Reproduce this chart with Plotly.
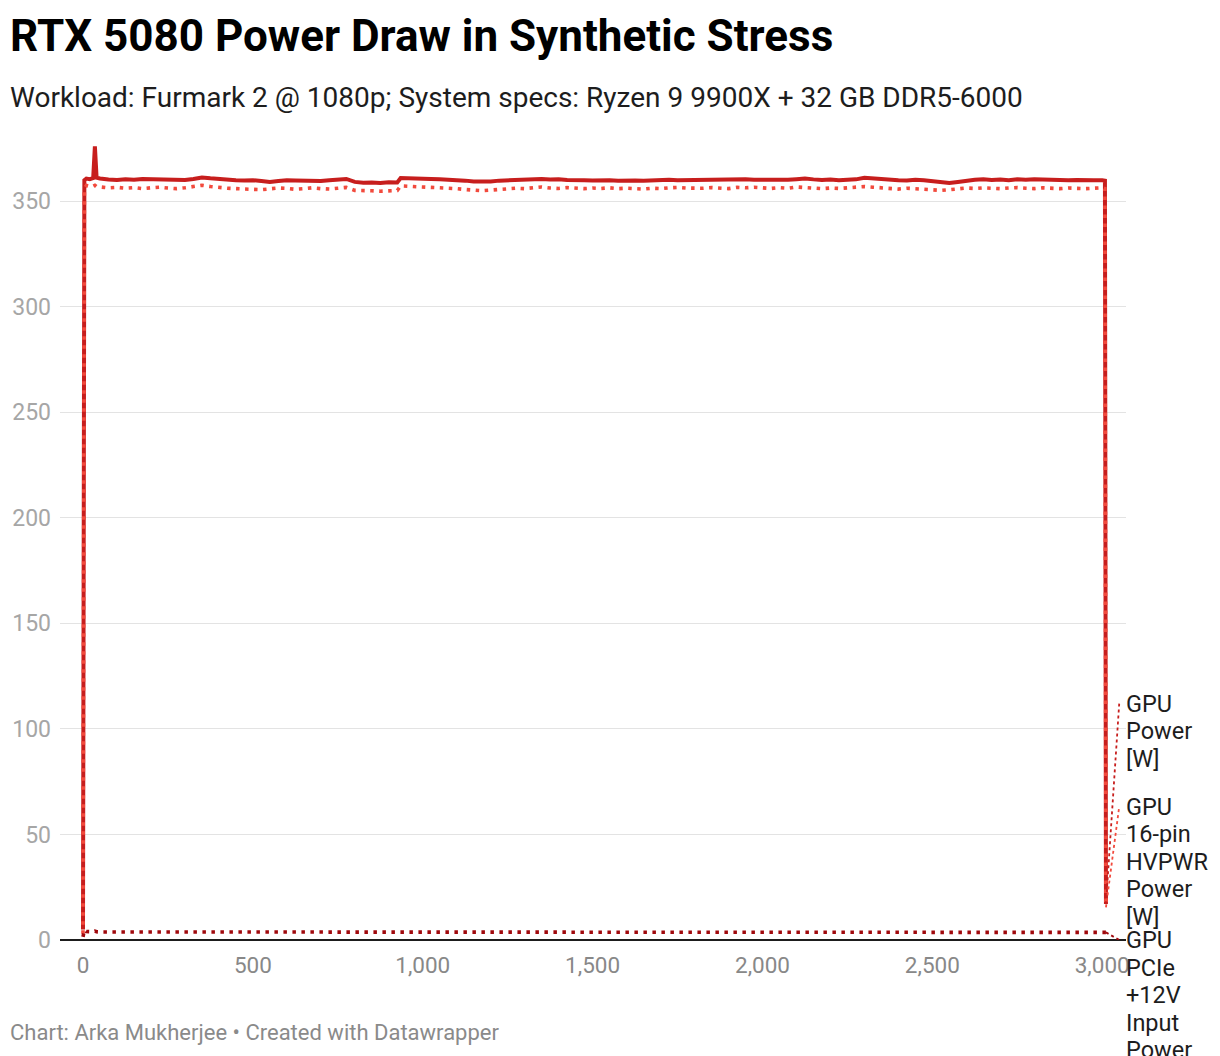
import plotly.graph_objects as go

# ---------------- data ----------------
time_s = [
    0, 4, 10, 20, 30, 35, 40,
    50, 75, 100, 125, 150, 175, 200, 225, 250, 275,
    300, 325, 350, 375, 400, 425, 450, 475, 500, 525,
    550, 575, 600, 625, 650, 675, 700, 725, 750, 775,
    800, 825, 850, 875, 900,
    925, 935,
    950, 975, 1000, 1025, 1050, 1075, 1100, 1125, 1150, 1175,
    1200, 1225, 1250, 1275, 1300, 1325, 1350, 1375, 1400, 1425,
    1450, 1475, 1500, 1525, 1550, 1575, 1600, 1625, 1650, 1675,
    1700, 1725, 1750, 1775, 1800, 1825, 1850, 1875, 1900, 1925,
    1950, 1975, 2000, 2025, 2050, 2075, 2100, 2125, 2150, 2175,
    2200, 2225, 2250, 2275, 2300, 2325, 2350, 2375, 2400, 2425,
    2450, 2475, 2500, 2525, 2550, 2575, 2600, 2625, 2650, 2675,
    2700, 2725, 2750, 2775, 2800, 2825, 2850, 2875, 2900, 2925,
    2950, 2975, 3000,
    3008, 3011,
]

gpu_power = [
    5, 360, 360.8, 360.5, 361.0, 376, 361.2,
    360.8, 360.3, 360.1, 360.4, 360.2, 360.6, 360.5, 360.2, 360.0, 359.8,
    360.1, 360.6, 361.3, 360.9, 360.5, 360.2, 360.0, 359.9, 360.0, 359.6,
    359.2, 359.6, 360.0, 359.9, 359.8, 360.1, 359.6, 360.0, 360.2, 360.6,
    359.2, 358.8, 358.9, 358.7, 359.0,
    358.9, 361.0,
    361.0, 360.9, 360.8, 360.6, 360.5, 360.4, 360.2, 359.8, 359.4, 359.2,
    359.4, 359.8, 360.0, 360.3, 360.2, 360.4, 360.6, 360.3, 360.5, 360.1,
    360.2, 360.0, 359.9, 360.1, 360.0, 359.8, 360.0, 359.9, 359.7, 359.9,
    359.8, 360.2, 360.0, 360.1, 360.3, 360.0, 360.2, 360.4, 360.3, 360.7,
    360.5, 360.2, 360.1, 360.0, 360.3, 360.2, 360.5, 360.8, 360.4, 360.1,
    360.3, 360.0, 360.2, 360.4, 361.2, 360.8, 360.5, 360.3, 360.0, 359.9,
    360.2, 360.0, 359.6, 359.0, 358.7, 359.2, 359.8, 360.2, 360.4, 360.1,
    360.3, 360.0, 360.4, 360.2, 360.5, 360.3, 360.1, 360.2, 360.0, 360.1,
    359.9, 360.0, 360.0,
    359.8, 17,
]

hvpwr_power = [
    3, 356, 357.5, 357.0, 357.2, 357.6, 357.0,
    356.8, 356.4, 356.6, 356.2, 356.5, 356.0, 356.4, 356.7, 356.3, 356.0,
    356.4, 357.0, 357.6, 357.0, 356.5, 356.2, 356.0, 355.8, 355.6, 355.5,
    355.9, 356.3, 356.1, 355.7, 356.0, 356.4, 356.0, 355.8, 356.2, 356.6,
    355.2, 354.9, 355.0, 354.8, 355.0,
    355.1, 357.3,
    357.2, 357.0, 356.8, 356.9, 356.6, 356.4, 356.0, 355.6, 355.2, 355.0,
    355.3, 355.6, 355.9, 356.2, 356.0, 356.4, 356.8, 356.3, 356.1, 356.5,
    356.2, 356.0, 356.3, 356.1, 356.4, 356.0, 356.2, 356.1, 355.8, 356.2,
    356.0, 356.4, 356.6, 356.3, 356.1, 356.2, 356.5, 356.3, 356.0, 356.6,
    356.4, 356.7, 356.3, 356.1, 356.5, 356.2, 356.8, 356.6, 356.2, 356.0,
    356.3, 356.1, 356.4, 356.6, 357.0, 356.7, 356.3, 356.0, 355.8, 356.2,
    356.0, 355.6, 355.3, 355.2, 355.5, 355.9, 356.3, 356.1, 356.4, 356.2,
    356.0, 356.3, 356.5, 356.2, 356.0, 356.4, 356.2, 356.0, 356.3, 356.1,
    356.0, 356.2, 356.4,
    356.0, 15.5,
]

pcie_power = [
    1.5, 4.8, 4.0, 3.9, 3.9, 4.2, 3.9,
    3.8, 3.8, 3.7, 3.8, 3.8, 3.7, 3.8, 3.8, 3.8, 3.7,
    3.8, 3.8, 3.9, 3.8, 3.8, 3.7, 3.8, 3.8, 3.8, 3.7,
    3.8, 3.8, 3.7, 3.8, 3.8, 3.8, 3.7, 3.8, 3.8, 3.8,
    3.7, 3.8, 3.8, 3.8, 3.7,
    3.8, 3.8,
    3.8, 3.8, 3.7, 3.8, 3.8, 3.8, 3.7, 3.8, 3.8, 3.8,
    3.7, 3.8, 3.8, 3.8, 3.8, 3.7, 3.8, 3.8, 3.8, 3.7,
    3.8, 3.8, 3.8, 3.7, 3.8, 3.8, 3.8, 3.8, 3.7, 3.8,
    3.8, 3.8, 3.7, 3.8, 3.8, 3.8, 3.8, 3.7, 3.8, 3.8,
    3.8, 3.7, 3.8, 3.8, 3.8, 3.8, 3.7, 3.8, 3.8, 3.8,
    3.7, 3.8, 3.8, 3.8, 3.8, 3.7, 3.8, 3.8, 3.8, 3.8,
    3.7, 3.8, 3.8, 3.8, 3.7, 3.8, 3.8, 3.8, 3.8, 3.7,
    3.8, 3.8, 3.8, 3.8, 3.7, 3.8, 3.8, 3.8, 3.8, 3.7,
    3.8, 3.8, 3.8,
    3.8, 3.6,
]

series_names = [
    "GPU Power [W]",
    "GPU 16-pin HVPWR Power [W]",
    "GPU PCIe +12V Input Power [W]",
]
label_lines = [
    ["GPU", "Power", "[W]"],
    ["GPU", "16-pin", "HVPWR", "Power", "[W]"],
    ["GPU", "PCIe", "+12V", "Input", "Power", "[W]"],
]

x_ticks = [0, 500, 1000, 1500, 2000, 2500, 3000]
y_ticks = [0, 50, 100, 150, 200, 250, 300, 350]

title_text = "RTX 5080 Power Draw in Synthetic Stress"
subtitle_text = "Workload: Furmark 2 @ 1080p; System specs: Ryzen 9 9900X + 32 GB DDR5-6000"
footer_text = "Chart: Arka Mukherjee \u2022 Created with Datawrapper"

# ---------------- styling / layout ----------------
W, H = 1220, 1056
OFF = 8  # page body margin in the browser
M_L, M_R, M_T, M_B = 60 - OFF, 94 + OFF, 138 - OFF, 116 + OFF
X_RANGE = [-67.7, 3070]
Y_RANGE = [0, 380]

colors = ["#c71e1d", "#f24a3d", "#a0080c"]
dashes = ["solid", "3.5px,5.5px", "3.5px,5.5px"]
widths = [4.0, 3.6, 3.6]

# label anchors (layout positions, value units on the y axis)
label_anchor_y = [112.0, 63.2, 0.0]
connector_x_end = 3050
LABEL_LINE_H = 27.5
LABEL_FS = 23.5

plot_h = H - M_T - M_B
plot_w = W - M_L - M_R


def paper_x(px):
    return (px - OFF - M_L) / plot_w


def paper_y(py):
    return (H - M_B - (py - OFF)) / plot_h


FONT = "Roboto, 'Noto Sans', sans-serif"

fig = go.Figure()
all_values = [gpu_power, hvpwr_power, pcie_power]
for name, vals, c, d, w in zip(series_names, all_values, colors, dashes, widths):
    fig.add_trace(go.Scatter(
        x=time_s, y=vals, mode="lines", name=name,
        line=dict(color=c, width=w, dash=d),
        hoverinfo="x+y+name",
    ))

annotations = []
shapes = []
for i, (vals, c) in enumerate(zip(all_values, colors)):
    # dotted connector from the last point of the line to its label
    shapes.append(dict(
        type="line", xref="x", yref="y",
        x0=time_s[-1], y0=vals[-1], x1=connector_x_end, y1=label_anchor_y[i],
        line=dict(color=c, width=1.8, dash="dot"),
    ))
    for j, line in enumerate(label_lines[i]):
        annotations.append(dict(
            xref="paper", yref="y", x=1.0, y=label_anchor_y[i],
            xanchor="left", yanchor="middle", yshift=-j * LABEL_LINE_H, xshift=-2,
            text=line, showarrow=False, align="left",
            font=dict(family=FONT, size=LABEL_FS, color="#1d1d1d"),
        ))

annotations += [
    dict(xref="paper", yref="paper", x=paper_x(10), y=paper_y(36),
         xanchor="left", yanchor="middle", showarrow=False, text="<b>" + title_text + "</b>",
         font=dict(family=FONT, size=44, color="#000000"), xshift=-2),
    dict(xref="paper", yref="paper", x=paper_x(10), y=paper_y(97),
         xanchor="left", yanchor="middle", showarrow=False, text=subtitle_text,
         font=dict(family=FONT, size=28, color="#1d1d1d"), xshift=-2),
    dict(xref="paper", yref="paper", x=paper_x(10), y=paper_y(1032),
         xanchor="left", yanchor="middle", showarrow=False, text=footer_text,
         font=dict(family=FONT, size=22, color="#8a8a8a"), xshift=-2),
]

fig.update_layout(
    width=W, height=H,
    margin=dict(l=M_L, r=M_R, t=M_T, b=M_B, pad=0, autoexpand=False),
    paper_bgcolor="white", plot_bgcolor="white",
    showlegend=False,
    font=dict(family=FONT),
    annotations=annotations,
    shapes=shapes,
    xaxis=dict(
        range=X_RANGE, tickvals=x_ticks, tickformat=",d",
        showgrid=False, zeroline=False, showline=False, ticks="",
        tickfont=dict(family=FONT, size=22.5, color="#888888"),
        ticklabelstandoff=9, automargin=False,
    ),
    yaxis=dict(
        range=Y_RANGE, tickvals=y_ticks,
        showgrid=True, gridcolor="#e3e3e3", gridwidth=1,
        zeroline=True, zerolinecolor="#1d1d1d", zerolinewidth=2,
        showline=False, ticks="",
        tickfont=dict(family=FONT, size=23, color="#a6a6a6"),
        ticklabelstandoff=8, automargin=False,
    ),
)

fig.write_html("out.html")
